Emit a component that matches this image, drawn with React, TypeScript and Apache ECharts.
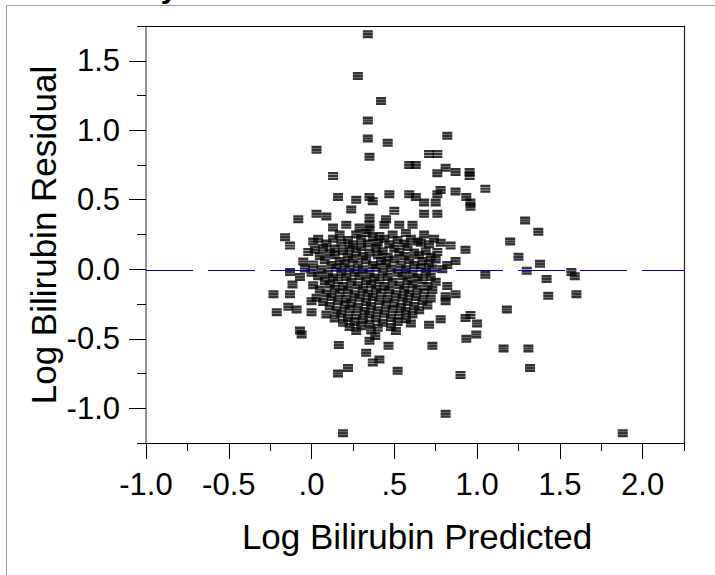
import { useEffect, useRef } from "react";
import * as echarts from "echarts";

// ---- tick values and labels ----
const xMajorTicks = [-1, -0.5, 0, 0.5, 1, 1.5, 2];
const xTickLabels = ["-1.0", "-0.5", ".0", ".5", "1.0", "1.5", "2.0"];
const xMinorTicks = [-0.75, -0.25, 0.25, 0.75, 1.25, 1.75, 2.25];
const yMajorTicks = [-1, -0.5, 0, 0.5, 1, 1.5];
const yTickLabels = ["-1.0", "-0.5", "0.0", "0.5", "1.0", "1.5"];
const yMinorTicks = [-1.25, -0.75, -0.25, 0.25, 0.75, 1.25, 1.75];

const xTitle = "Log Bilirubin Predicted";
const yTitle = "Log Bilirubin Residual";
const plotTitle = "Residual by Predicted Plot";
const referenceLine = -0.01;

// ---- data: [predicted, residual] ----
const upperPoints: [number, number][] = [
  [0.34, 1.69], [0.28, 1.39], [0.42, 1.21], [0.34, 1.07], [0.34, 0.94],
  [0.46, 0.91], [0.82, 0.96], [0.03, 0.86], [0.35, 0.81], [0.71, 0.83],
  [0.76, 0.83], [0.59, 0.75], [0.63, 0.75], [0.81, 0.73], [0.87, 0.70],
  [0.955, 0.70], [0.955, 0.67], [0.76, 0.69], [0.13, 0.67], [1.05, 0.58],
  [0.16, 0.52], [0.27, 0.50], [0.35, 0.52], [0.37, 0.49], [0.47, 0.54],
  [0.59, 0.54], [0.63, 0.52], [0.68, 0.48], [0.76, 0.54], [0.78, 0.57],
  [0.75, 0.48], [0.87, 0.56], [0.935, 0.52], [0.96, 0.48], [0.96, 0.45],
  [0.24, 0.43], [0.50, 0.42], [0.68, 0.40], [0.76, 0.40], [0.03, 0.40],
  [0.09, 0.38], [-0.08, 0.36], [0.35, 0.37], [0.45, 0.36], [0.13, 0.30],
  [0.21, 0.32], [0.29, 0.30], [0.35, 0.32], [0.44, 0.32], [0.53, 0.32],
  [0.61, 0.32], [0.35, 0.285],
];

const rightPoints: [number, number][] = [
  [1.20, 0.20], [1.25, 0.09], [1.29, 0.35], [1.37, 0.27], [1.38, 0.04],
  [1.42, -0.07], [1.43, -0.19], [1.30, -0.01], [1.57, -0.02], [1.59, -0.05],
  [1.60, -0.18], [1.18, -0.29], [1.16, -0.57], [1.31, -0.57], [1.32, -0.71],
  [1.88, -1.18], [0.19, -1.18], [0.81, -1.04],
  [0.64, 0.20], [0.74, 0.22], [0.84, 0.17], [0.78, 0.19], [0.93, 0.14],
  [0.87, 0.06], [0.82, 0.03], [1.05, -0.04], [0.81, -0.195], [0.81, -0.23],
  [0.87, -0.18], [0.82, -0.12], [0.96, -0.33], [1.0, -0.39], [0.93, -0.35],
  [0.78, -0.36], [0.71, -0.40], [0.60, -0.39],
];

const leftPoints: [number, number][] = [
  [-0.16, 0.23], [-0.13, 0.17], [0.01, 0.20], [0.02, 0.14], [0.14, 0.15],
  [-0.05, 0.055], [-0.13, -0.02], [-0.23, -0.18], [-0.13, -0.18], [-0.115, -0.11],
  [-0.21, -0.31], [-0.14, -0.27], [-0.09, -0.29], [0.0, -0.31], [0.0, -0.23],
  [-0.07, -0.44], [-0.06, -0.47],
];

const lowerPoints: [number, number][] = [
  [0.165, -0.545], [0.33, -0.60], [0.35, -0.515], [0.385, -0.48], [0.465, -0.55],
  [0.51, -0.445], [0.73, -0.55], [0.16, -0.75], [0.22, -0.71], [0.52, -0.73],
  [0.90, -0.76], [0.935, -0.50], [0.995, -0.47], [0.41, -0.65], [0.37, -0.67],
];

const clusterPoints: [number, number][] = [
  [0.17, 0.25], [0.27, 0.25], [0.33, 0.26], [0.41, 0.24], [0.49, 0.25], [0.57, 0.26], [0.68, 0.25],
  [0.04, 0.22], [0.13, 0.22], [0.22, 0.21], [0.30, 0.22], [0.37, 0.23], [0.44, 0.22], [0.52, 0.21], [0.60, 0.22],
  [0.09, 0.185], [0.18, 0.19], [0.25, 0.18], [0.34, 0.185], [0.40, 0.19], [0.47, 0.18], [0.56, 0.185], [0.66, 0.19], [0.71, 0.18],
  [0.07, 0.155], [0.23, 0.15], [0.30, 0.16], [0.39, 0.155], [0.50, 0.15], [0.58, 0.16],
  [-0.02, 0.125], [0.11, 0.12], [0.19, 0.13], [0.27, 0.125], [0.35, 0.12], [0.43, 0.13], [0.53, 0.125], [0.62, 0.12], [0.69, 0.13], [0.76, 0.125],
  [0.05, 0.095], [0.14, 0.10], [0.22, 0.09], [0.31, 0.095], [0.40, 0.10], [0.46, 0.09], [0.56, 0.095], [0.65, 0.10], [0.72, 0.09],
  [0.08, 0.065], [0.17, 0.06], [0.25, 0.07], [0.33, 0.065], [0.42, 0.06], [0.50, 0.07], [0.59, 0.065], [0.67, 0.06], [0.75, 0.07],
  [0.01, 0.035], [0.12, 0.03], [0.20, 0.04], [0.28, 0.035], [0.37, 0.03], [0.45, 0.04], [0.54, 0.035], [0.62, 0.03], [0.71, 0.04],
  [-0.04, 0.005], [0.06, 0.0], [0.15, 0.01], [0.23, 0.005], [0.31, 0.0], [0.39, 0.01], [0.48, 0.005], [0.57, 0.0], [0.66, 0.01], [0.73, 0.005], [0.79, 0.0],
  [0.00, -0.025], [0.10, -0.03], [0.18, -0.02], [0.26, -0.025], [0.35, -0.03], [0.43, -0.02], [0.52, -0.025], [0.61, -0.03], [0.69, -0.02],
  [-0.07, -0.055], [0.04, -0.05], [0.13, -0.06], [0.21, -0.055], [0.29, -0.05], [0.38, -0.06], [0.46, -0.055], [0.55, -0.05], [0.64, -0.06], [0.72, -0.055],
  [0.08, -0.085], [0.16, -0.08], [0.24, -0.09], [0.33, -0.085], [0.41, -0.08], [0.49, -0.09], [0.58, -0.085], [0.67, -0.08], [0.75, -0.09],
  [0.01, -0.115], [0.11, -0.11], [0.19, -0.12], [0.28, -0.115], [0.36, -0.11], [0.44, -0.12], [0.53, -0.115], [0.61, -0.11], [0.70, -0.12],
  [0.05, -0.145], [0.14, -0.14], [0.22, -0.15], [0.31, -0.145], [0.39, -0.14], [0.47, -0.15], [0.56, -0.145], [0.64, -0.14], [0.73, -0.15],
  [0.09, -0.175], [0.17, -0.17], [0.26, -0.18], [0.34, -0.175], [0.42, -0.17], [0.51, -0.18], [0.59, -0.175], [0.68, -0.17],
  [0.03, -0.205], [0.12, -0.20], [0.21, -0.21], [0.29, -0.205], [0.37, -0.20], [0.46, -0.21], [0.55, -0.205], [0.63, -0.20], [0.72, -0.21],
  [0.07, -0.235], [0.16, -0.23], [0.24, -0.24], [0.33, -0.235], [0.41, -0.23], [0.50, -0.24], [0.58, -0.235], [0.67, -0.23],
  [0.11, -0.265], [0.20, -0.26], [0.28, -0.27], [0.36, -0.265], [0.45, -0.26], [0.54, -0.27], [0.62, -0.265], [0.70, -0.26],
  [0.15, -0.295], [0.23, -0.29], [0.32, -0.30], [0.40, -0.295], [0.49, -0.29], [0.57, -0.30], [0.65, -0.295],
  [0.09, -0.325], [0.18, -0.32], [0.27, -0.33], [0.35, -0.325], [0.44, -0.32], [0.53, -0.33], [0.61, -0.325],
  [0.14, -0.355], [0.22, -0.35], [0.31, -0.36], [0.39, -0.355], [0.48, -0.35], [0.57, -0.36],
  [0.19, -0.385], [0.26, -0.38], [0.35, -0.39], [0.43, -0.385], [0.52, -0.38],
  [0.23, -0.415], [0.30, -0.41], [0.40, -0.42], [0.48, -0.415],
  [0.27, -0.445], [0.36, -0.44],
];

const allPoints = [...upperPoints, ...rightPoints, ...leftPoints, ...lowerPoints, ...clusterPoints];

const FONT = '"Liberation Sans", Arial, sans-serif';
const MARKER = "path://M0 0H10V2.7H0ZM0 3H10V5.7H0ZM0 6H10V8.7H0Z";

export default function App() {
  const ref = useRef<HTMLDivElement>(null);
  useEffect(() => {
    if (!ref.current) return;
    const chart = echarts.init(ref.current, undefined, { renderer: "svg" });
    const xMin = -1, xMax = 2.25, yMin = -1.25, yMax = 1.75;
    const hiddenAxisBits = { splitLine: { show: false }, axisLabel: { show: false } };
    chart.setOption({
      animation: false,
      backgroundColor: "#ffffff",
      grid: { left: 146, top: 26, width: 538, height: 417, containLabel: false },
      xAxis: [
        {
          type: "value", min: xMin, max: xMax, position: "bottom", offset: 0,
          axisLine: { show: true, onZero: false, lineStyle: { color: "#000", width: 1 } },
          axisTick: { show: true, customValues: xMajorTicks, length: 16, lineStyle: { color: "#000", width: 1 } },
          axisLabel: {
            show: true, customValues: xMajorTicks, margin: 26, fontSize: 31, color: "#000", fontFamily: FONT,
            formatter: (v: number) => { const i = xMajorTicks.findIndex((t) => Math.abs(t - v) < 1e-6); return i >= 0 ? xTickLabels[i] : ""; },
          },
          splitLine: { show: false },
        },
        {
          type: "value", min: xMin, max: xMax, position: "bottom", offset: 0,
          axisLine: { show: false, onZero: false },
          axisTick: { show: true, customValues: xMinorTicks, length: 8, lineStyle: { color: "#000", width: 1 } },
          ...hiddenAxisBits,
        },
        {
          type: "value", min: xMin, max: xMax, position: "top", offset: 0,
          axisLine: { show: true, onZero: false, lineStyle: { color: "#000", width: 1 } },
          axisTick: { show: false },
          ...hiddenAxisBits,
        },
      ],
      yAxis: [
        {
          type: "value", min: yMin, max: yMax, position: "left", offset: 0,
          axisLine: { show: true, onZero: false, lineStyle: { color: "#6e6e6e", width: 1.5 } },
          axisTick: { show: true, customValues: yMajorTicks, length: 17, lineStyle: { color: "#000", width: 1 } },
          axisLabel: {
            show: true, customValues: yMajorTicks, margin: 26, fontSize: 31, color: "#000", fontFamily: FONT,
            formatter: (v: number) => { const i = yMajorTicks.findIndex((t) => Math.abs(t - v) < 1e-6); return i >= 0 ? yTickLabels[i] : ""; },
          },
          splitLine: { show: false },
        },
        {
          type: "value", min: yMin, max: yMax, position: "left", offset: 0,
          axisLine: { show: false, onZero: false },
          axisTick: { show: true, customValues: yMinorTicks, length: 9, lineStyle: { color: "#000", width: 1 } },
          ...hiddenAxisBits,
        },
        {
          type: "value", min: yMin, max: yMax, position: "right", offset: 0,
          axisLine: { show: true, onZero: false, lineStyle: { color: "#222", width: 1.2 } },
          axisTick: { show: false },
          ...hiddenAxisBits,
        },
      ],
      series: [
        {
          type: "line", xAxisIndex: 0, yAxisIndex: 0, data: [], z: 1, silent: true,
          markLine: {
            silent: true, symbol: "none", label: { show: false },
            lineStyle: { color: "#0000cc", width: 1.2, type: [47, 15] },
            data: [{ yAxis: referenceLine }],
          },
        },
        {
          type: "scatter", xAxisIndex: 0, yAxisIndex: 0, z: 2,
          symbol: MARKER, symbolSize: [10, 8],
          itemStyle: { color: "#000" },
          data: allPoints,
        },
      ],
      graphic: [
        { type: "line", shape: { x1: 6.5, y1: 5.5, x2: 715, y2: 5.5 }, style: { stroke: "#a0a0a0", lineWidth: 1 } },
        { type: "line", shape: { x1: 6.5, y1: 5.5, x2: 6.5, y2: 575 }, style: { stroke: "#a0a0a0", lineWidth: 1 } },
        {
          type: "text", x: 9, y: -12.7,
          style: { text: plotTitle, font: `bold 30px ${FONT}`, fill: "#000", textAlign: "left", textVerticalAlign: "middle" },
        },
        {
          type: "text", x: 417, y: 536,
          style: { text: xTitle, font: `35px ${FONT}`, fill: "#000", textAlign: "center", textVerticalAlign: "middle" },
        },
        {
          type: "text", x: 43, y: 235, rotation: Math.PI / 2,
          style: { text: yTitle, font: `35px ${FONT}`, fill: "#000", textAlign: "center", textVerticalAlign: "middle" },
        },
      ],
    });
    return () => chart.dispose();
  }, []);
  return <div ref={ref} style={{ position: "fixed", left: 0, top: 0, width: 715, height: 575 }} />;
}
